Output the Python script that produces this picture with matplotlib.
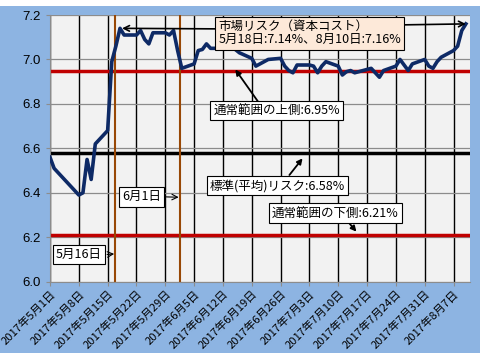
import numpy as np
import pandas as pd
import matplotlib
matplotlib.use("Agg")
import matplotlib.pyplot as plt
from matplotlib.patches import Rectangle

plt.rcParams['font.family'] = ['Noto Sans CJK JP', 'DejaVu Sans']

# データ（営業日）
dates = pd.to_datetime([
    "2017-05-01", "2017-05-02", "2017-05-08", "2017-05-09", "2017-05-10", "2017-05-11", "2017-05-12",
    "2017-05-15", "2017-05-16", "2017-05-17", "2017-05-18", "2017-05-19",
    "2017-05-22", "2017-05-23", "2017-05-24", "2017-05-25", "2017-05-26",
    "2017-05-29", "2017-05-30", "2017-05-31", "2017-06-01", "2017-06-02",
    "2017-06-05", "2017-06-06", "2017-06-07", "2017-06-08", "2017-06-09",
    "2017-06-12", "2017-06-13", "2017-06-14", "2017-06-15", "2017-06-16",
    "2017-06-19", "2017-06-20", "2017-06-21", "2017-06-22", "2017-06-23",
    "2017-06-26", "2017-06-27", "2017-06-28", "2017-06-29", "2017-06-30",
    "2017-07-03", "2017-07-04", "2017-07-05", "2017-07-06", "2017-07-07",
    "2017-07-10", "2017-07-11", "2017-07-12", "2017-07-13", "2017-07-14",
    "2017-07-18", "2017-07-19", "2017-07-20", "2017-07-21",
    "2017-07-24", "2017-07-25", "2017-07-26", "2017-07-27", "2017-07-28",
    "2017-07-31", "2017-08-01", "2017-08-02", "2017-08-03", "2017-08-04",
    "2017-08-07", "2017-08-08", "2017-08-09", "2017-08-10"])
risk = [6.56, 6.51, 6.39, 6.40, 6.55, 6.46, 6.62,
        6.68, 6.99, 7.06, 7.14, 7.11,
        7.11, 7.13, 7.09, 7.07, 7.12,
        7.12, 7.11, 7.13, 7.04, 6.96,
        6.98, 7.04, 7.045, 7.07, 7.05,
        7.05, 7.05, 7.05, 7.045, 7.03,
        7.005, 6.97, 6.98, 6.99, 7.00,
        7.005, 6.97, 6.95, 6.94, 6.975,
        6.975, 6.97, 6.94, 6.97, 6.99,
        6.97, 6.93, 6.945, 6.95, 6.94,
        6.96, 6.94, 6.92, 6.95,
        6.97, 7.00, 6.975, 6.95, 6.98,
        7.00, 6.97, 6.96, 6.99, 7.01,
        7.04, 7.06, 7.13, 7.16]

upper = 6.95
mean = 6.58
lower = 6.21
mark_days = pd.to_datetime(["2017-05-16 18:00", "2017-06-01 12:00"])
week_ticks = pd.date_range("2017-05-01", "2017-08-07", freq="7D")

fig = plt.figure(figsize=(4.8, 3.6), dpi=100)
fig.add_artist(Rectangle((0, 7/360), 1, 347/360, transform=fig.transFigure,
                         facecolor='#8DB4E2', edgecolor='none', zorder=-10))
ax = fig.add_axes([50/480, 1-281.7/360, 420/480, 266.7/360])
ax.set_zorder(1)
ax.set_facecolor('#F2F2F2')

ax.set_ylim(6.0, 7.2)
ax.set_yticks(np.arange(6.0, 7.21, 0.2))
ax.set_yticklabels(["%.1f" % v for v in np.arange(6.0, 7.21, 0.2)], fontsize=9.5,
                   family=['Liberation Sans', 'DejaVu Sans'])
ax.yaxis.grid(True, color='#8C8C8C', lw=0.9)
for d in week_ticks:
    ax.axvline(d, color='black', lw=1.0, zorder=1)

ax.axhline(upper, color='#C00000', lw=2.5, zorder=2)
ax.axhline(lower, color='#C00000', lw=2.5, zorder=2)
ax.axhline(mean, color='black', lw=2.5, zorder=2)
for d in mark_days:
    ax.axvline(d, color='#984806', lw=1.5, zorder=2)

ax.plot(dates, risk, color='#0E2A66', lw=2.6, zorder=4)

ax.set_xlim(pd.Timestamp("2017-05-01"), pd.Timestamp("2017-08-11"))
ax.set_xticks(week_ticks)
ax.set_xticklabels(["%d年%d月%d日" % (d.year, d.month, d.day) for d in week_ticks],
                   rotation=45, ha='right', rotation_mode='anchor', fontsize=8.1)
ax.tick_params(axis='both', color='#8C8C8C', length=3)
ax.tick_params(axis='x', pad=2)
for s in ['top', 'right']:
    ax.spines[s].set_visible(False)
for s in ['left', 'bottom']:
    ax.spines[s].set_color('#8C8C8C')

box_w = dict(boxstyle='square,pad=0.25', fc='white', ec='black', lw=0.8)
box_p = dict(boxstyle='square,pad=0.25', fc='#FDE9D9', ec='black', lw=0.8)
arr = dict(arrowstyle='->', color='black', lw=1.0, shrinkA=0, shrinkB=0)
arr2 = dict(arrowstyle='-|>', color='black', lw=1.3, shrinkA=0, shrinkB=0, mutation_scale=8)

ax.text(0.619, 0.932, "市場リスク（資本コスト）\n5月18日:7.14%、8月10日:7.16%", transform=ax.transAxes,
        ha='center', va='center', fontsize=9, multialignment='left', bbox=box_p, zorder=6, linespacing=1.05)
ax.annotate('', xy=(dates[10] + pd.Timedelta(hours=12), 7.14), xytext=(0.395, 0.948),
            textcoords='axes fraction', arrowprops=dict(arr, lw=1.2), zorder=5)
ax.annotate('', xy=(dates[-1], 7.16), xytext=(0.84, 0.963),
            textcoords='axes fraction', arrowprops=dict(arr, lw=1.2), zorder=5)

ax.text(0.540, 0.641, "通常範囲の上側:6.95%", transform=ax.transAxes,
        ha='center', va='center', fontsize=9, bbox=box_w, zorder=6)
ax.annotate('', xy=(pd.Timestamp("2017-06-15"), 6.955), xytext=(0.495, 0.676),
            textcoords='axes fraction', arrowprops=arr2, zorder=5)

ax.text(0.542, 0.360, "標準(平均)リスク:6.58%", transform=ax.transAxes,
        ha='center', va='center', fontsize=9, bbox=box_w, zorder=6)
ax.annotate('', xy=(pd.Timestamp("2017-07-01 08:00"), 6.555), xytext=(0.570, 0.400),
            textcoords='axes fraction', arrowprops=arr2, zorder=5)

ax.text(0.679, 0.258, "通常範囲の下側:6.21%", transform=ax.transAxes,
        ha='center', va='center', fontsize=9, bbox=box_w, zorder=6)
ax.annotate('', xy=(pd.Timestamp("2017-07-14 10:00"), 6.225), xytext=(0.710, 0.224),
            textcoords='axes fraction', arrowprops=arr2, zorder=5)

ax.text(0.218, 0.318, "6月1日", transform=ax.transAxes,
        ha='center', va='center', fontsize=9, bbox=box_w, zorder=6)
ax.annotate('', xy=(mark_days[1] - pd.Timedelta(hours=6), 6.38), xytext=(0.277, 0.318),
            textcoords='axes fraction', arrowprops=dict(arr, lw=0.8), zorder=5)

ax.text(0.069, 0.102, "5月16日", transform=ax.transAxes,
        ha='center', va='center', fontsize=9, bbox=box_w, zorder=6)
ax.annotate('', xy=(mark_days[0] - pd.Timedelta(hours=4), 6.125), xytext=(0.136, 0.102),
            textcoords='axes fraction', arrowprops=dict(arr, lw=0.8), zorder=5)

fig.savefig("out.png", dpi=100)
